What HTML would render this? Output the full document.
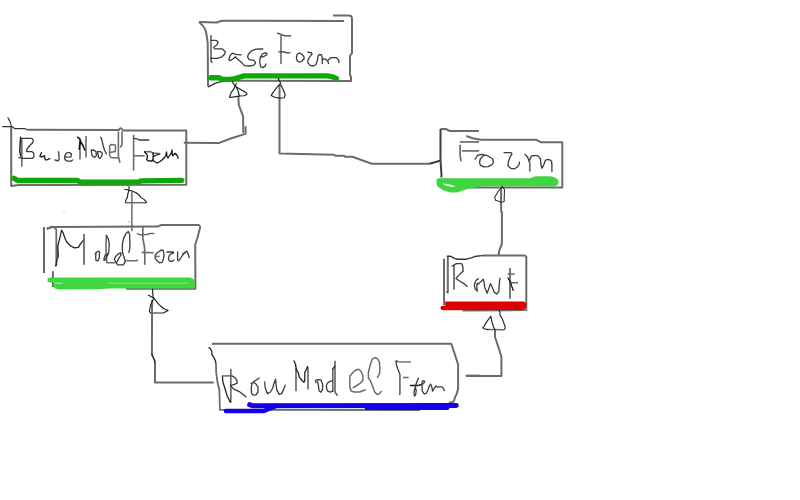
<!DOCTYPE html>
<html><head><meta charset="utf-8"><style>
html,body{margin:0;padding:0;background:#fff;width:800px;height:500px;overflow:hidden;font-family:"Liberation Sans",sans-serif;}
svg{position:absolute;left:0;top:0;display:block}
.b{fill:none;stroke:#6b6b6b;stroke-width:2;stroke-linejoin:round;stroke-linecap:butt}
.t{fill:none;stroke:#3a3a3a;stroke-width:1.3;stroke-linejoin:round;stroke-linecap:round}
.a{fill:none;stroke:#1a1a1a;stroke-width:1.1;stroke-linejoin:round;stroke-linecap:round}
.g{fill:none;stroke:#0ea808;stroke-width:5.3;stroke-linecap:round;stroke-linejoin:round}
.lg{fill:none;stroke:#3fd43f;stroke-width:5.5;stroke-linecap:round;stroke-linejoin:round}
.r{fill:none;stroke:#d60000;stroke-width:5.5;stroke-linecap:round;stroke-linejoin:round}
.bl{fill:none;stroke:#1400e6;stroke-width:5;stroke-linecap:round;stroke-linejoin:round}
</style></head><body>
<svg width="800" height="500" viewBox="0 0 800 500">
<!-- ===== BaseForm box ===== -->
<path class="b" d="M199,22 L217,22.5 Q220,21 223,20.8 L344,21"/>
<path class="b" d="M199,22 Q204,26 205.5,30 Q207,36 207.7,43 L208,86.5"/>
<path class="a" style="stroke:#333;stroke-width:1.3" d="M208.5,86.8 L215,83.4 L220.25,81.9 L223.5,81.1"/>
<path class="b" d="M222,80.8 L351,81 L351,77 L350,75 L350,56 L352,53 L352,19 Q352,15.6 349,15.6 L333,15.6"/>
<!-- green -->
<path class="g" d="M210.9,77.75 L218,77.6 L222,79.1 L230,79.3 L235,78.6 L240,77 L244,75.9 L250,75.85 L327,75.8 L332,76.6 L336.5,78.5"/>
<!-- ===== BaseModelForm box ===== -->
<path class="a" style="stroke:#333;stroke-width:1.2" d="M8,117.8 Q11,122 11.5,127.5 M2.8,126.6 L11.9,126.6 L15,128.7 L25,128.7 L27.5,129.8"/>
<path class="b" d="M11.2,127.5 L11.2,186 L18.7,185 L186.3,184.7 L186.3,130.6 L123,130.6 Q121,126 118.7,130 L27.5,129.8"/>
<path class="b" d="M183.8,142.8 L218.7,143.1 L230,138.8 L243.8,134.4 L245.6,133.8 L245.6,126.3"/>
<path class="b" d="M243.3,133 L243.1,116.3 L238.8,105 L238.3,96"/>
<path class="g" d="M14,178.3 L17.5,180.5 L77.5,180.3 L80,182.2 L138.7,182 L141,180.8 L181.8,180.3"/>
<!-- ===== ModelForm box ===== -->
<path class="b" d="M44,227 L44,273"/>
<path class="b" d="M47,228.7 L52.5,227 L157.5,226.6 L161.3,225 L198.8,225 Q200.5,226 200,228 L197.5,237.5 L195.2,245 L195.4,288.8 L126,288.8"/>
<path class="b" d="M52.9,271.3 L52.9,287"/>
<path fill="#3fd63f" d="M50,277.4 L190.4,277.4 L194.75,280 L194.75,288.4 L125,288.4 L108,288.4 L100,289.3 L60,289.6 Q54,289.6 54,286.6 L54,283.5 L53,282.6 L50,282.6 Q47.4,282.6 47.4,280 Q47.4,277.4 50,277.4 Z"/>
<path fill="#c8f0c8" d="M54.4,282.7 L62.7,282.7 L62.7,283.6 L54.4,283.6 Z"/>
<path fill="#a8eca8" d="M107.3,282.7 L187.7,282.7 L187.7,283.6 L107.3,283.6 Z"/>
<!-- ===== Form box ===== -->
<path class="b" d="M440.5,129 L445.6,129 L450,131 L478.8,131"/>
<path class="b" style="stroke:#404040" d="M440.5,129 L440.5,160.6 L441.5,175 L441.3,177.5"/>
<path class="b" d="M466.4,136 L472.5,138.2 L480.4,139.7 L536.3,139.8 L541.3,142.3 L562.3,142.3 L562.3,187.6 L467.5,187.6"/>
<path fill="#3fd63f" d="M439,178.3 L530,178.3 Q533,176.3 537,176.3 L550,176.3 Q558.6,177.5 558.6,181.5 Q558.6,186.4 553,186.4 L485,186.3 L470,188.3 Q462,190.5 457,192.6 L450,192.6 Q443,191 438,187 Q436.4,185 436.4,181 Q436.6,178.3 439,178.3 Z"/>
<path fill="#f4fcf4" d="M442,183.6 L448,184 L455.75,186.2 L452,186.9 L446,185.6 Z"/>
<!-- ===== Row box ===== -->
<path class="b" d="M444,258.8 L444,305"/>
<path class="a" style="stroke:#333;stroke-width:1.4" d="M447.3,256.3 L450.6,256.3 L454.4,258.4 L457.6,259.2 L466.4,259.2 L472,257.6 L476,256.2 L482.5,255.6"/>
<path class="b" d="M446.4,291.2 L447.8,292.6 L447.8,257 M482.5,255.6 L525,255.6 L526.3,256.9 L526.3,310 L462.5,310.6"/>
<path fill="#da0000" d="M445.2,301.4 L523.5,301.4 Q526.4,302 526.4,305 Q526.2,308 524.5,309 Q523.5,310 521,310 L443,310.2 Q440.4,310 440.4,308 Q440.4,305.8 443,305.8 L445.2,305.8 Z"/>
<!-- ===== RowModelForm box ===== -->
<path class="b" d="M211.9,343.8 L451.3,343.8 L453.8,351.3 L458.1,364.4 L458.1,388.8 L456.3,395 L455.5,396 L454,400.5 L452.5,402.4 L448.75,402.4"/>
<path class="a" style="stroke:#222;stroke-width:1.3" d="M208.9,347.6 L210.6,349 L211.7,351.3 L212,354.6 L213.4,356.9 L214.8,359.1 L215.6,361.9 L215.9,363.3"/>
<path class="b" style="stroke-width:1.8" d="M215.9,363.3 L216.2,372.5 L217.5,382.5 L219.4,390 L219.9,409.9 L420,410"/>
<path class="bl" style="stroke-width:4.6" d="M226,411 L264,411 L276,405.8"/>
<path class="bl" d="M367,407.5 L447,407.5"/>
<path class="bl" d="M249.6,404.6 L252.5,405.8 L456.3,405.5"/>
<!-- ===== connectors ===== -->
<path class="b" d="M279.5,85 L279.5,153.6 L333.5,154.7 L335.8,155.8 L344,155.8 L345.5,156.8 L352.3,156.8 L371.8,163.7 L428.8,163.7 L439.3,161 L441,160.6"/>

<path class="b" d="M152.1,300 L151.9,354.4"/>
<path class="a" style="stroke:#222;stroke-width:1.6" d="M151.9,354.4 L152.5,356 L154.5,360 L155,363"/>
<path class="b" d="M155,363.1 L155,382.5 L213.8,382.5"/>
<path class="b" d="M501.1,188 L501.1,211.5 L501.9,212 L501.9,243.8 L499.4,250 L498.5,255.6"/>
<path class="b" d="M495,329.8 L495,337 L498.6,347.8 L501.4,356.8 L501.4,376 L466.2,376"/>
<path class="b" d="M465.6,375.6 L480,375.6"/>
<path class="a" style="stroke:#333;stroke-width:1.3" d="M430,163.8 L440,160.6"/>
<!-- ===== text BaseForm ===== -->
<path class="t" d="M211,35.6 L211,61 L212,62.4"/>
<path class="t" d="M211,40.4 L216.4,40.4 L218,42 L217.2,44.4 L213.6,47.6 L214.8,48.8 L222,48.8 L225.2,51.6 L224.8,54 L222,56.8 L217.2,58.4 L211,58.4"/>
<path class="t" d="M241.2,54.8 L235.6,54.4 L232.4,53.2 L230,55.6 L228.8,59.6 L230,60.8 L233.2,58.8 L235.6,56.8 L238,59.6 L242,62.8 L244.4,65.6 L249.2,66 L254,65.2 L255.6,62.8 L254,60.4 L249.2,59.6 L247.6,57.2 L248.4,54 L251.6,50.8 L255.6,49.2 L262.8,49"/>
<path class="t" d="M261.6,57.2 L264,56.4 L266.8,54.8 L266.8,53.2 L264.8,52.8 L262.4,54 L260.4,57.2 L259.6,62 L260.8,66.8 L262.8,67.6 L264.8,66.4 L266,64"/>
<path class="t" d="M277.6,33.2 L280.8,34.4 L284.8,35.8 L290.8,35.8"/>
<path class="b" style="stroke-width:1.6" d="M281,34 L281,64"/>
<path class="t" d="M278.8,51.8 L284,51.8 L286.4,52.8 L290,52.8"/>
<path class="t" d="M298.9,53.2 L297,54.4 L296.4,57.9 L297.3,61 L299.5,62.25 L302,61 L304.2,58.5 L303.9,56.6 L302,54.4 L299.5,53"/>
<path class="t" d="M307.9,51.9 L309.5,52.6 L311.4,52.6 L312,54.1 L310.75,55.7 L309.2,57.6 L307.9,60.4 L307.9,62.9 L310.1,65.4 L313.25,66 L315.75,64.75 L317,61.9 L317.6,59.1 L317.9,56.3 L318.9,54.75 L321.1,54.6 L322,56 L322.3,59.75 L322.3,63.5"/>
<path class="t" d="M322.3,59.4 L323.9,58.8 L326,59.4 L327.6,61 L328.6,63.5"/>
<path class="t" d="M328.25,60 L330.1,58.2 L332,57.6 L336.4,57.6 L338,59.4 L338.9,61 L338.9,62.6"/>
<!-- arrows BaseForm -->
<path class="a" d="M232.5,81.6 L233.1,83.4 L235.5,86.4 L239.4,88.8 L246.6,93 L246.9,94.5 L244.2,95.7 L239.4,96 L234,96.9 L229.8,97.5 L229.5,97.2 L231,93 L231.6,91.8 L234,88.8 L236.4,83.4"/>
<path class="a" d="M236.1,86.7 L237.9,90.6 L239.4,96"/>
<path class="a" d="M278.2,78.3 L279.5,81.2 L280.6,82.8 L280,84.3 L278.5,85.4 L276.4,88 L273.8,91.6 L272.2,93.7 L271.2,95.5 L274.8,97.3 L279.5,98.1 L284.2,97.8 L285.2,94.7 L283.2,89.5 L281.1,85.4 L280,84.3"/>
<!-- arrow BaseModelForm -->
<path class="a" d="M129,186.2 L129,190.4 L127.8,194 L127.5,197 L126,200 L125.4,202.4"/>
<path class="a" d="M124.8,189.2 L132,191 L136.2,192.8 L139.2,195.2 L141,197.6 L144,199.4 L146.7,202.4"/>
<path class="b" style="stroke-width:1.5" d="M125.4,202.7 L146.7,202.7"/>
<!-- arrow ModelForm -->
<path class="a" d="M152.5,289.4 L153.1,297.5"/>
<path class="a" d="M148.5,295.25 L153.75,298.1 L158.75,304.4 L163.75,308.75 L168.1,310.6 L163.75,312.75"/>
<path class="a" d="M153.75,298 L150.6,305 L149.4,311.25 L150.6,313.1"/>
<path class="b" style="stroke-width:1.5" d="M150.6,313 L163.75,313"/>
<!-- arrow Form -->
<path class="a" style="stroke:#333" d="M502.25,186.4 L497.75,192 L494.75,197.25 L495.5,200.25 L500.75,202.1 L504.1,201.75 L504.5,189.75 L502.25,186.4"/>
<!-- arrow Row -->
<path class="a" d="M499.1,310.5 L499.8,311.8 L500.1,315.6 L502.3,318.8 L503.6,322.6 L505.2,326.5 L504.9,329 L503.6,329.8"/>
<path class="b" style="stroke-width:1.5" d="M503.6,329.8 L488.2,329.6"/>
<path class="a" d="M488.2,329.6 L483.8,328.7 L482.8,327.8 L484.4,325.8 L487,321.4 L490.8,316.2 L491.8,321.4 L493.4,326.5 L495,329.7"/>
<!-- ===== text BaseModelForm ===== -->
<path class="t" style="stroke:#222;stroke-width:1.5" d="M20.6,137.2 L20,146 L19.8,151.6 L21,156.4 L22.2,157.6"/>
<path class="b" style="stroke-width:1.6" d="M21.8,138 L21.8,166.8"/>
<path class="t" d="M21,138.4 L31.8,138.4 L33.4,140.4 L32.6,142.8 L29.4,146 L27,149.2 L26.6,151.6 L31.8,151.6 L33.8,153.2 L33.8,157.2 L31.8,158.4 L23.8,158.4 L19,157.6"/>
<path class="t" style="stroke:#222;stroke-width:1.4" d="M41.4,152.7 L40.7,154.3 L40,156.5 L41.4,156.8 L43.2,156.5 L44.5,155.7 L44.6,157.5 L45.4,159.7 L46.8,159.9 L49.7,158.6"/>
<path class="t" d="M58.6,151.6 L59,156.4 L59,159.6 L58.2,160.8 L55,160"/>
<path class="t" d="M65.4,157.2 L71,156.8 L71.4,154 L69.4,152.4 L66.2,153.2 L64.6,156.4 L65,159.6 L67.4,161.2 L71,161.2 L72.6,160"/>
<path class="b" style="stroke-width:1.6" d="M80,139.6 L80,159.6 M86,136 L86,157.6"/>
<path class="t" style="stroke:#111;stroke-width:1.5" d="M77.6,137.2 L80,139.2 L80.8,142 L83.2,146 L84.8,150 M80,142 L79.2,149.2"/>
<path class="t" d="M91.2,150 L92,155.6 L94.4,157.6 L96.4,155.6 L96,151.6 L93.6,150 L91.2,150.4"/>
<path class="t" d="M97.6,151.6 L98.4,157.2 L100,158.4 L101.6,156.4 L102.4,153.2 L100.4,151.6 L97.6,151.6 M100.8,137.2 L102,140.4 L103.2,146 L104.8,150.8 L106.4,154"/>
<path class="b" style="stroke-width:1.5" d="M110,152.4 L115.2,151.6 L115.6,146 L114.4,144.8 L111.2,144.4 L109.6,146 L109.6,155.6 L111.2,157.6 L116.8,158 L118.4,157.6"/>
<path class="b" style="stroke-width:1.6" d="M118.4,131.6 L118.4,156.4 L120,162.8 M122,131.6 L122,144.4 L120.4,147.6"/>
<path class="b" style="stroke-width:1.6" d="M133.6,134.8 L133.6,170.6"/>
<path class="t" d="M133.6,138.4 L136.8,138.8 L139.2,140 L148.8,140"/>
<path class="b" style="stroke-width:1.6" d="M133.6,155.8 L144.8,155.8"/>
<path class="b" style="stroke-width:1.5" d="M144.5,151.75 L150,151.4 L152,152.5 L154,153.25 L156.5,153.25 L160.5,153.75"/>
<path class="t" style="stroke:#111" d="M144.5,151.75 L146.5,154 L147.5,155.75 L147,158 L146.75,159.5 L148,160.75 L152,161 L153,160"/>
<path class="t" style="stroke:#111" d="M153,153 L153.25,157.5 L152.75,160 L154.5,161.5 L157,163 L160,161.5 L162,160 L164.5,157.5 L166,155 L166.5,152 L167,156.5 L168,158 L170,155 L171.5,152.5 L172,150 L172.25,155 L173,155.75 L174.5,153.75 L175.5,153.5 L177,155.5 L178,157 L178,158.25"/>
<path class="t" style="stroke:#111" d="M153.5,156.5 L156.5,155 L159,154.25"/>
<!-- ===== text ModelForm ===== -->
<path class="b" d="M46.7,228.7 L52.5,226.6 L54.9,227.8 L55.8,229.2"/>
<path class="b" style="stroke-width:1.8" d="M56.3,229 L56.3,266.1"/>
<path class="b" style="stroke-width:2" d="M56.8,245 L57.6,257"/>
<path class="t" style="stroke:#222" d="M55.8,266.1 L56.8,260.4 L58.2,256.5 L57.8,246 L59.7,238.3 L61.6,230.2 L63,232.6 L65,238.3 L66.9,242.2 L70.7,246 L74.5,247.9 L78.4,247.4 L80.3,244.1 L83.7,239.8"/>
<path class="b" style="stroke-width:1.8" d="M84,234 L84,264.7"/>
<path class="t" d="M95.2,253.6 L98,251.2 L99.6,252 L99.2,258.4 L98,260.8 L96,260.4 L95.6,256.8 L96,253.6"/>
<path class="b" style="stroke-width:1.6" d="M106.4,235.2 L106,244 L106,252.8 L106.8,261.6 L107.2,262.8 L115.6,262.8"/>
<path class="t" d="M106.4,235.2 L108.4,239.2 L109.2,244 L108.8,252 L107.2,254.4 L105.2,255.2 L104,258.4 L104,260.4 L105.6,259.2 L107.2,256 L108.4,253.6"/>
<path class="t" d="M115.6,261.6 L114.4,259.6 L115.6,256.4 L118.8,253.6 L120.8,252.8 L120.8,255.2 L118.8,258.4 L117.2,261.6 L116.4,263.2 L117.6,264.8 L123.6,264.8 L124.8,262.4 L125.2,260.8"/>
<path class="t" d="M125.2,260.8 L123.6,256 L122.4,252 L122.4,244 L123.6,238.4 L126,233.6 L128.4,231.6 L129.6,234.4 L130,244 L129.6,249.6 L128.8,252.4"/>
<path class="b" style="stroke-width:1.5" d="M125.2,260.4 L128.4,260.8 L136.4,260.8 L138,260"/>
<path class="b" style="stroke-width:1.7" d="M142.8,227 L142.8,238.4 L144.4,246.4 L144.8,252 L144.8,264.8"/>
<path class="b" style="stroke-width:1.5" d="M136.8,233.6 L140.4,234.8 L146.8,234.4 L150,233.6 L154.4,233.4"/>
<path class="b" style="stroke-width:1.6" d="M141.6,252.4 L153.6,252.8"/>
<path class="t" d="M159.6,251.2 L161.2,250 L163.2,250.4 L164,254.4 L163.6,258.4 L162,262.4 L159.6,262.8 L157.2,260.8 L155.2,258.4 L155.2,255.2 L157.2,252.8 L159.6,251.2"/>
<path class="b" style="stroke-width:1.5" d="M155.6,256.4 L159.6,256.4"/>
<path class="t" d="M166.8,252 L173.2,252 L173.6,252.8 L171.6,253.6 L169.2,255.6 L168.4,258.4 L169.2,260.8 L171.6,261.6 L174,260"/>
<path class="t" d="M177.6,252 L177.6,260 L178.8,260.8 L182,256 L185.2,252 L186.8,251.2 L188.4,254.4 L189.2,257.6 M182.8,253.6 L185.2,252.8"/>
<path class="b" style="stroke-width:1.5" d="M131.9,190.4 L131.9,231.2"/>
<!-- ===== text Form ===== -->
<path class="b" style="stroke-width:1.7" d="M459.8,141.95 L479.1,141.95"/>
<path class="b" style="stroke-width:1.7" d="M460.1,144.75 L460.1,155.25 L461,161.4"/>
<path class="b" style="stroke-width:1.7" d="M462,150.9 L479.1,150.9"/>
<path class="t" d="M475.1,159.2 L477.7,155.25 L482.1,154.4 L487.4,155.7 L492.6,158.75 L493.5,162.25 L491.75,164.9 L488.25,166.6 L483.9,166.8 L480.4,165.3 L479.5,162.25 L480.4,158.75 L483,156.1 L484.7,155.25"/>
<path class="t" d="M504,152.6 L511,152.6 L511.9,153.9 L510.1,157 L508.4,161.4 L507.9,165.75 L511,168.4 L514.5,168.8 L517.55,167 L519.3,164 L519.3,162.25"/>
<path class="t" d="M525,154.4 L527.5,157 L529.2,160.9"/>
<path class="b" style="stroke-width:1.7" d="M529.2,160.9 L529.8,163.7 L529.8,171.5"/>
<path class="t" d="M529.2,160.9 L531.4,156.4 L532.6,155.6 L537.6,155.6 L540.4,158.6 L541,164.8 L542.1,168.2 L543.8,164.8 L545.4,160.3 L547.1,159.5 L549.9,159.8 L551.6,161.4 L551.9,164.8 L551.9,171.5"/>
<!-- ===== text Row ===== -->
<path class="b" style="stroke-width:1.8" d="M454,264.8 L454,289.6"/>
<path class="t" d="M452,266 L454.4,264.8 L456.4,263.6 L461.6,263.6 L462.8,266.4 L463.2,271.2 L461.2,272.8 L458.4,275.6 L456,278.4 L459.2,280.8 L464,283.6 L467.2,286.4"/>
<path class="t" d="M478.4,278.8 L476.8,279.6 L475.2,281.6 L474.4,285.6 L475.2,288.8 L477.2,291.2 L476.8,286.4 L477.2,283.2 L478.4,284 L480.8,281.6 L483.2,279.2 L484,282 L484.8,287.6 L487.2,293.2 L488.8,288.4 L490.4,283.6 L492,286.8 L494.4,292.4 L496.8,294 L498.8,291.6 L499.2,286 L499.6,280.4 L500,278.4"/>
<path class="b" style="stroke-width:1.8" d="M510,268 L510,298.8"/>
<path class="b" style="stroke-width:1.6" d="M507.6,274 L514.8,274 M511.2,282.8 L518,282.8"/>
<path class="t" style="stroke:#111" d="M508,278 L510.4,282 L511.6,286 L513.2,290.4"/>
<!-- ===== text RowModelForm ===== -->
<path class="b" style="stroke-width:1.7" d="M230.8,368.8 L230.8,402.4"/>
<path class="t" style="stroke:#222" d="M230.4,402.4 L227.2,396 L224.8,388 L222.8,381.6 L222.4,376"/>
<path class="b" style="stroke-width:1.6" d="M222.4,376 L232,375.8"/>
<path class="t" d="M232,375.8 L234.8,377.6 L236.8,380 L237.2,383.2 L234.4,384.4 L230.4,385.6 L233.6,388.8 L239.2,391.6 L242.4,394 L246,396.8"/>
<path class="t" d="M259.2,378 L255.2,380.8 L252,383.2 L251.2,388 L251.6,393.6 L253.6,395.2 L256,394.8 L258,392 L258,387.2 L256,384 L253.6,382.4 L251.2,383.2"/>
<path class="t" d="M264.8,382 L265,386.4 L266,390.4 L267.6,393.6 L270.4,392 L272.8,388 L274,383.2 L275.6,379.2 L276,384 L276.8,389.6 L279.2,394.4 L281.6,393.6 L283.6,389.6 L285.2,385.2"/>
<path class="b" style="stroke-width:1.7" d="M296,368 L296,391.2 M308,367.2 L308,389.6"/>
<path class="t" style="stroke:#222" d="M294,360.8 L295.6,364.8 L296.4,369.6 L298.4,372.8 L299.2,376.8 L301.6,380 L304,382.4 L304.8,380 L304.8,372 L306.4,369.6 L307.6,366.4"/>
<path class="t" d="M315.9,382.6 L315.5,380.5 L317.6,379.6 L320.9,380 L322.6,384.3 L322.6,389.3 L320.9,392.2 L319.2,391 L318.4,385.9 L317.6,381.7"/>
<path class="b" style="stroke-width:1.7" d="M335,360.7 L335,392.2 L337.7,395.6 M332.8,369 L332.8,392"/>
<path class="t" style="stroke:#222" d="M332.7,369.1 L334.8,366.2"/>
<path class="t" d="M332.3,380.9 L329.3,381.7 L327.2,383.4 L326.4,385.9 L326.8,389.3 L328.1,391.4 L330.6,392.2 L332.3,391"/>
<path class="b" style="stroke-width:1.5" d="M352.7,387.9 L356,386 L359.6,383.7 L362.9,380.5 L362.9,375.9 L361.5,372.2 L359.2,369.5 L356.9,369.5 L354.1,371.3 L350,375.9 L349.7,381.4 L350,387.9 L351.4,391.1 L354.1,392 L359.6,392 L365.6,389.7"/>
<path class="b" style="stroke-width:1.5" d="M377.1,377.8 L379.4,374.1 L379.9,368.6 L379.4,362.1 L377.6,358.9 L375.3,357.7 L372.5,358.9 L371.1,362.1 L369.8,366.7 L368.4,372.2 L368.4,377.8 L370.7,381.4 L372.5,386 L374.4,391.6 L376.7,394.3 L379,393.9 L381.7,391.1"/>
<path class="b" style="stroke-width:1.6" d="M396,360.8 L398.2,361.7 L410.9,362"/>
<path class="t" d="M396,360.8 L396.4,364.8 L398.2,370.1 L399.9,374.5"/>
<path class="b" style="stroke-width:1.7" d="M399.9,374.5 L399.9,393 L399.5,395.1"/>
<path class="b" style="stroke-width:1.5" d="M403,377.5 L408.7,377.5"/>
<path class="t" style="stroke:#111" d="M410.5,385.5 L418.4,385.5 L420.1,385"/>
<path class="t" d="M418.4,378 L416.6,382.4 L415.3,386.8 L414,392.1 L414.4,396 L415.7,394.7 L416.2,390.3 L415.3,386.8"/>
<path class="t" d="M419.3,385 L422.8,384.1 L424.5,382.4 L424.1,380.6 L422.3,381.1 L421.9,385 L422.3,391.2 L424.1,393.8 L426.3,393.4 L428.1,389.4 L429.4,385.9 L430.7,384.1 L432,387.7 L432.5,391.2 L434.2,388.5 L436,385.9 L437.7,387.2 L439.5,386.8 L442.1,386.8 L443.9,389.4 L444.3,390.7"/>
<circle cx="64" cy="212" r="0.6" fill="#999"/><circle cx="129" cy="222" r="0.7" fill="#888"/>
</svg>
</body></html>
